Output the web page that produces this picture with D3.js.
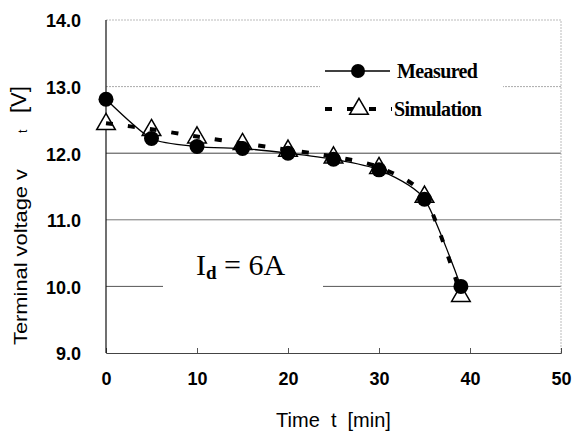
<!DOCTYPE html>
<html>
<head>
<meta charset="utf-8">
<script src="https://cdn.jsdelivr.net/npm/d3@7"></script>
<style>
  body { margin: 0; background: #fff; }
  svg { display: block; }
  .tick-label { font-family: "Liberation Sans", Arial, sans-serif; font-weight: bold; font-size: 18px; fill: #000; }
</style>
</head>
<body>
<div id="chart"></div>
<script>
// data
const times = [0, 5, 10, 15, 20, 25, 30, 35, 39];
const measured = [12.81, 12.22, 12.10, 12.07, 12.00, 11.91, 11.75, 11.31, 10.00];
const simulation = [12.45, 12.36, 12.25, 12.15, 12.05, 11.95, 11.79, 11.36, 9.87];
const xTicks = [0, 10, 20, 30, 40, 50];
const yTicks = [9, 10, 11, 12, 13, 14];

const width = 574, height = 437;
const margin = {top: 20, right: 13, bottom: 84, left: 106};
const plotW = width - margin.left - margin.right;
const plotH = height - margin.top - margin.bottom;

const svg = d3.select('#chart').append('svg')
  .attr('width', width)
  .attr('height', height)
  .attr('viewBox', `0 0 ${width} ${height}`);

const g = svg.append('g')
  .attr('transform', `translate(${margin.left},${margin.top})`);

//
// Scales
//
const x = d3.scaleLinear().domain([0, 50]).range([0, plotW]);
const y = d3.scaleLinear().domain([9, 14]).range([plotH, 0]);

//
// Grid and frame
//
const gridStyle = {13: ['#aaa', '2,1'], 12: ['#444', null], 11: ['#777', null], 10: ['#555', null]};
g.selectAll('.grid').data([10, 11, 12, 13]).enter().append('line')
  .attr('class', 'grid')
  .attr('x1', 0).attr('x2', plotW)
  .attr('y1', d => y(d)).attr('y2', d => y(d))
  .attr('stroke', d => gridStyle[d][0])
  .attr('stroke-dasharray', d => gridStyle[d][1])
  .attr('stroke-width', 1);

// top and right border, light dotted
g.append('path')
  .attr('d', `M0,0 H${plotW} V${plotH}`)
  .attr('fill', 'none')
  .attr('stroke', '#bbb')
  .attr('stroke-dasharray', '2,1');

// white boxes behind the legend and the I_d note
g.append('rect').attr('x', 214).attr('y', 30).attr('width', 183).attr('height', 75).attr('fill', '#fff');
g.append('rect').attr('x', 57).attr('y', 215).attr('width', 160).attr('height', 65).attr('fill', '#fff');

//
// Axes
//
const xAxis = g.append('g')
  .attr('transform', `translate(0,${plotH})`)
  .call(d3.axisBottom(x).tickValues(xTicks).tickSize(-5).tickPadding(19).tickFormat(d3.format('d')));
xAxis.select('.domain').attr('stroke', '#444');
xAxis.selectAll('.tick line').attr('stroke', '#555');
xAxis.selectAll('.tick').filter(d => d === 0 || d === 50).select('line').remove();
xAxis.selectAll('text').attr('class', 'tick-label').attr('font-size', null).attr('font-family', null);

const yAxis = g.append('g')
  .call(d3.axisLeft(y).tickValues(yTicks).tickSize(0).tickPadding(25).tickFormat(d3.format('.1f')));
yAxis.select('.domain').remove();
yAxis.selectAll('text').attr('class', 'tick-label').attr('font-size', null).attr('font-family', null)
  .attr('dy', '0.38em');

g.append('line')
  .attr('x1', 0).attr('x2', 0).attr('y1', 0).attr('y2', plotH)
  .attr('stroke', '#111').attr('stroke-width', 1.2);

//
// Series
//
const simData = times.map((t, i) => ({t, v: simulation[i]}));
const meaData = times.map((t, i) => ({t, v: measured[i]}));

const tri = d3.symbol().type(d3.symbolTriangle).size(150);

g.selectAll('.sim-marker').data(simData).enter().append('path')
  .attr('class', 'sim-marker')
  .attr('transform', d => `translate(${x(d.t)},${y(d.v) + 1})`)
  .attr('d', tri)
  .attr('fill', '#fff')
  .attr('stroke', '#000')
  .attr('stroke-width', 1.5);

g.selectAll('.mea-marker').data(meaData).enter().append('circle')
  .attr('class', 'mea-marker')
  .attr('cx', d => x(d.t))
  .attr('cy', d => y(d.v))
  .attr('r', 7.5)
  .attr('fill', '#000');

const line = d3.line()
  .x(d => x(d.t))
  .y(d => y(d.v))
  .curve(d3.curveCardinal.tension(0.3));

g.append('path')
  .datum(simData)
  .attr('d', line)
  .attr('fill', 'none')
  .attr('stroke', '#000')
  .attr('stroke-width', 4)
  .attr('stroke-dasharray', '7,15');

g.append('path')
  .datum(meaData)
  .attr('d', line)
  .attr('fill', 'none')
  .attr('stroke', '#000')
  .attr('stroke-width', 1.3);

//
// Legend
//
const legend = svg.append('g');
legend.append('line').attr('x1', 325).attr('x2', 390).attr('y1', 71).attr('y2', 71)
  .attr('stroke', '#000').attr('stroke-width', 1.3);
legend.append('circle').attr('cx', 358).attr('cy', 71).attr('r', 7).attr('fill', '#000');
legend.append('text').attr('x', 397).attr('y', 78)
  .attr('font-family', '"Liberation Serif", "Times New Roman", serif')
  .attr('font-weight', 'bold').attr('font-size', 20).attr('letter-spacing', -0.6)
  .text('Measured');

legend.append('line').attr('x1', 325).attr('x2', 392).attr('y1', 109).attr('y2', 109)
  .attr('stroke', '#000').attr('stroke-width', 4).attr('stroke-dasharray', '7,15');
legend.append('path').attr('transform', 'translate(359,109)').attr('d', tri)
  .attr('fill', '#fff').attr('stroke', '#000').attr('stroke-width', 1.5);
legend.append('text').attr('x', 394).attr('y', 116)
  .attr('font-family', '"Liberation Serif", "Times New Roman", serif')
  .attr('font-weight', 'bold').attr('font-size', 20).attr('letter-spacing', -0.6)
  .text('Simulation');

//
// Note and axis titles
//
const note = svg.append('text')
  .attr('x', 196).attr('y', 275)
  .attr('font-family', '"Liberation Serif", "Times New Roman", serif')
  .attr('font-size', 30);
note.append('tspan').text('I');
note.append('tspan').attr('font-size', 19).attr('font-weight', 'bold').attr('dy', 4).text('d');
note.append('tspan').attr('dy', -4).text(' = 6A');

svg.append('text')
  .attr('x', margin.left + plotW / 2).attr('y', 427)
  .attr('text-anchor', 'middle')
  .attr('font-family', '"Liberation Sans", Arial, sans-serif')
  .attr('font-size', 20)
  .attr('xml:space', 'preserve')
  .text('Time  t  [min]');

const yTitle = svg.append('g').attr('transform', 'translate(27,0) rotate(-90)');
yTitle.append('text')
  .attr('x', -345).attr('y', 0)
  .attr('textLength', 176).attr('lengthAdjust', 'spacingAndGlyphs')
  .attr('font-family', '"Liberation Sans", Arial, sans-serif')
  .attr('font-size', 18)
  .text('Terminal voltage v');
yTitle.append('text')
  .attr('x', -133).attr('y', 0)
  .attr('font-family', '"Liberation Sans", Arial, sans-serif')
  .attr('font-size', 12)
  .text('t');
yTitle.append('text')
  .attr('x', -113).attr('y', -1)
  .attr('font-family', '"Liberation Sans", Arial, sans-serif')
  .attr('font-size', 22)
  .text('[V]');
</script>
</body>
</html>
